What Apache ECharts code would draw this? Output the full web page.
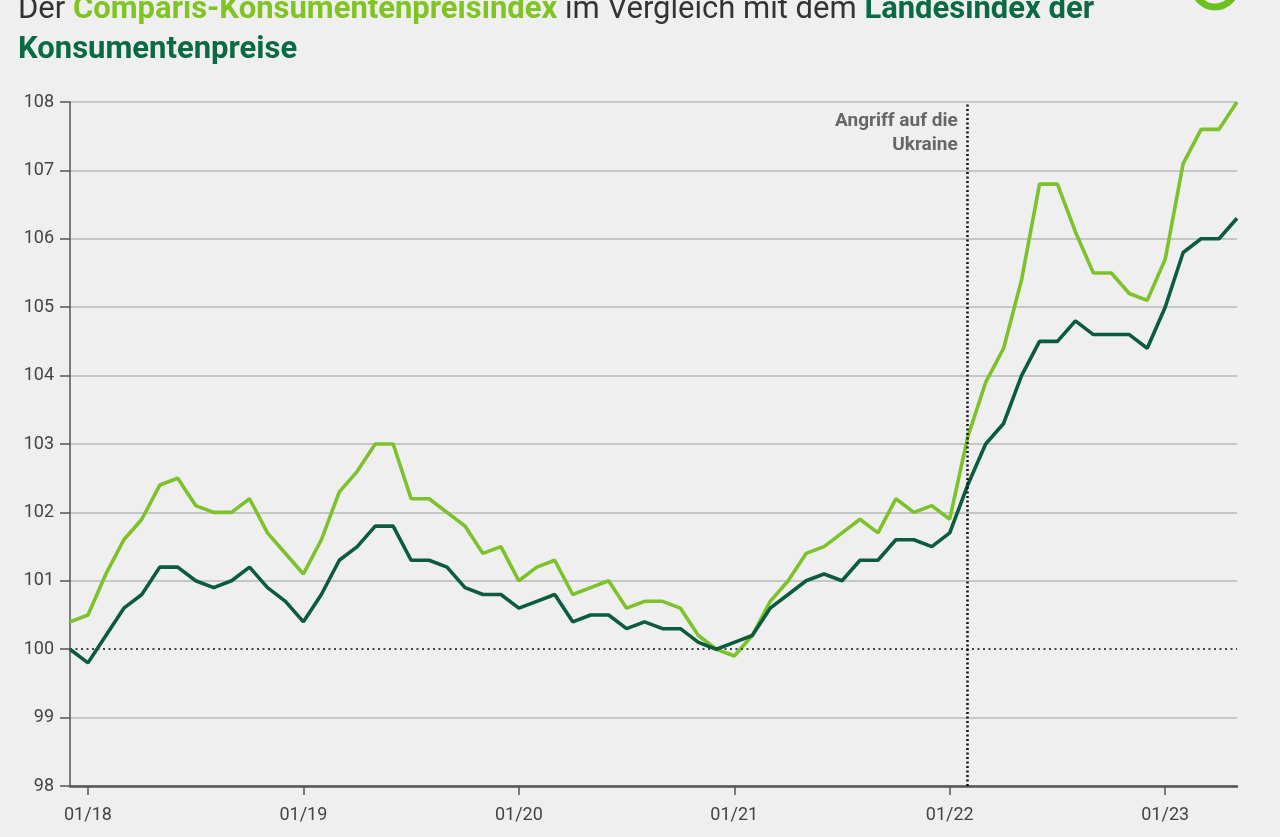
<!DOCTYPE html>
<html>
<head>
<meta charset="utf-8">
<script src="https://cdn.jsdelivr.net/npm/echarts@6/dist/echarts.min.js"></script>
<style>
html,body{margin:0;padding:0;background:#f0eff0;}
#chart{width:1280px;height:837px;}
</style>
</head>
<body>
<div id="chart"></div>
<script>
const months = [
  '12/17',
  '01/18','02/18','03/18','04/18','05/18','06/18','07/18','08/18','09/18','10/18','11/18','12/18',
  '01/19','02/19','03/19','04/19','05/19','06/19','07/19','08/19','09/19','10/19','11/19','12/19',
  '01/20','02/20','03/20','04/20','05/20','06/20','07/20','08/20','09/20','10/20','11/20','12/20',
  '01/21','02/21','03/21','04/21','05/21','06/21','07/21','08/21','09/21','10/21','11/21','12/21',
  '01/22','02/22','03/22','04/22','05/22','06/22','07/22','08/22','09/22','10/22','11/22','12/22',
  '01/23','02/23','03/23','04/23','05/23'
];
const comparis = [
  100.4,
  100.5,101.1,101.6,101.9,102.4,102.5,102.1,102.0,102.0,102.2,101.7,101.4,
  101.1,101.6,102.3,102.6,103.0,103.0,102.2,102.2,102.0,101.8,101.4,101.5,
  101.0,101.2,101.3,100.8,100.9,101.0,100.6,100.7,100.7,100.6,100.2,100.0,
  99.9,100.2,100.7,101.0,101.4,101.5,101.7,101.9,101.7,102.2,102.0,102.1,
  101.9,103.1,103.9,104.4,105.4,106.8,106.8,106.1,105.5,105.5,105.2,105.1,
  105.7,107.1,107.6,107.6,108.0
];
const landesindex = [
  100.0,
  99.8,100.2,100.6,100.8,101.2,101.2,101.0,100.9,101.0,101.2,100.9,100.7,
  100.4,100.8,101.3,101.5,101.8,101.8,101.3,101.3,101.2,100.9,100.8,100.8,
  100.6,100.7,100.8,100.4,100.5,100.5,100.3,100.4,100.3,100.3,100.1,100.0,
  100.1,100.2,100.6,100.8,101.0,101.1,101.0,101.3,101.3,101.6,101.6,101.5,
  101.7,102.4,103.0,103.3,104.0,104.5,104.5,104.8,104.6,104.6,104.6,104.4,
  105.0,105.8,106.0,106.0,106.3
];
const eventMonth = '02/22';
const eventLabel = 'Angriff auf die\nUkraine';
const baseValue = 100;

const LIME = '#7cc22b';
const DARK = '#0b5c3d';

const chart = echarts.init(document.getElementById('chart'));
const gridColors = ['#c6c6c6','#c6c6c6','rgba(0,0,0,0)','#c6c6c6','#c6c6c6','#c6c6c6','#c6c6c6','#c6c6c6','#c6c6c6','#c6c6c6','#c6c6c6'];
const isJan = (i, v) => String(v).startsWith('01/');

chart.setOption({
  backgroundColor: '#f0eff0',
  animation: false,
  grid: { left: 70, right: 43, top: 102, bottom: 51, containLabel: false },
  xAxis: {
    type: 'category',
    data: months,
    boundaryGap: false,
    axisLine: { show: true, lineStyle: { color: '#555', width: 2.5 } },
    axisTick: { show: true, interval: isJan, length: 9, lineStyle: { color: '#555', width: 1.5 } },
    axisLabel: { interval: isJan, color: '#444', fontSize: 18, fontFamily: 'Roboto', margin: 20 },
    splitLine: { show: false }
  },
  yAxis: {
    type: 'value',
    min: 98, max: 108, interval: 1,
    axisLine: { show: true, lineStyle: { color: '#555', width: 1.5 } },
    axisTick: { show: true, length: 10, lineStyle: { color: '#555', width: 1.5 } },
    axisLabel: { color: '#444', fontSize: 18, fontFamily: 'Roboto', margin: 16 },
    splitLine: { show: true, lineStyle: { color: gridColors, width: 2 } }
  },
  series: [
    {
      name: 'Comparis-Konsumentenpreisindex',
      type: 'line',
      data: comparis,
      symbol: 'none',
      lineStyle: { color: LIME, width: 3.6 },
      z: 3,
      markLine: {
        silent: true,
        symbol: 'none',
        label: { show: false },
        data: [
          { yAxis: baseValue, lineStyle: { color: '#444', type: [2, 3.5], width: 2 } },
          { xAxis: eventMonth, lineStyle: { color: '#111', type: [2, 2.5], width: 2.5 } }
        ]
      },
      markPoint: {
        silent: true,
        symbol: 'circle',
        symbolSize: 0,
        data: [{ coord: [eventMonth, 108] }],
        label: {
          show: true,
          formatter: eventLabel,
          position: 'left',
          distance: 10,
          offset: [0, 31],
          align: 'right',
          color: '#666',
          fontSize: 19,
          fontWeight: 'bold',
          fontFamily: 'Roboto',
          lineHeight: 24
        }
      }
    },
    {
      name: 'Landesindex der Konsumentenpreise',
      type: 'line',
      data: landesindex,
      symbol: 'none',
      lineStyle: { color: DARK, width: 3.6 },
      z: 4
    }
  ],
  graphic: [
    {
      type: 'text',
      left: 18,
      top: -5,
      style: {
        text: '{a|Der }{b|Comparis-Konsumentenpreisindex}{a| im Vergleich mit dem }{c|Landesindex der}',
        rich: {
          a: { fontSize: 31, fill: '#333', fontFamily: 'Roboto' },
          b: { fontSize: 31, fill: '#80c423', fontWeight: 'bold', fontFamily: 'Roboto' },
          c: { fontSize: 31, fill: '#0a6a45', fontWeight: 'bold', fontFamily: 'Roboto' }
        }
      }
    },
    {
      type: 'text',
      left: 18,
      top: 35,
      style: {
        text: 'Konsumentenpreise',
        fontSize: 31, fill: '#0a6a45', fontWeight: 'bold', fontFamily: 'Roboto'
      }
    },
    {
      type: 'circle',
      shape: { cx: 1215, cy: -14, r: 21 },
      style: { fill: 'none', stroke: '#6dc021', lineWidth: 7 }
    }
  ]
});
</script>
</body>
</html>
